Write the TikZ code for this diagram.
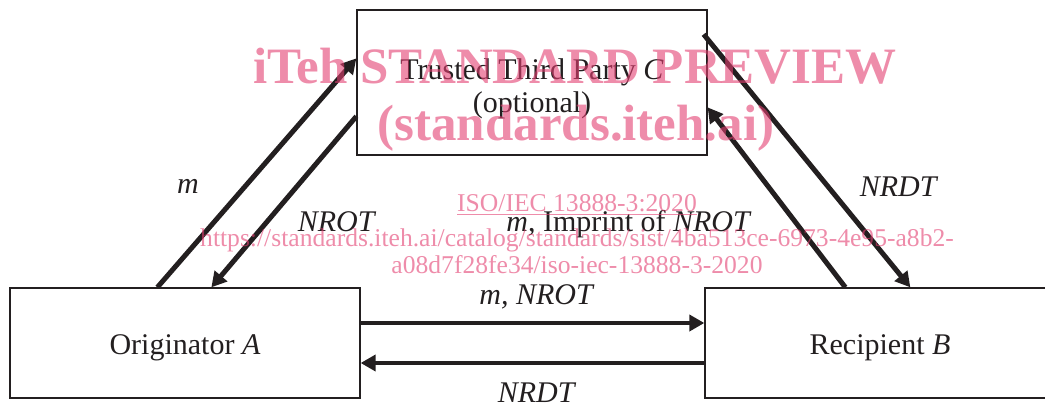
\documentclass[tikz,border=0pt]{standalone}
\usepackage{fontspec}
\setmainfont{Liberation Serif}
\usepackage{tikz}
\usetikzlibrary{arrows.meta}
\usetikzlibrary{positioning}
\usetikzlibrary{calc}
\definecolor{ink}{RGB}{35,31,32}
\definecolor{wmpink}{RGB}{227,63,113}

\begin{document}
\begin{tikzpicture}[
x=0.5pt, y=-0.5pt,
party/.style={
  draw=ink,
  line width=0.65pt,
  minimum width=175pt,
  minimum height=55pt,
  inner sep=0pt,
  text=ink,
  text height=15pt,
  font=\fontsize{15}{16.5}\selectfont,
  align=center},
msg/.style={
  draw=ink,
  line width=2pt,
  -{Triangle[length=7.5pt,width=8pt]}},
slant/.style={
  msg,
  line width=2.5pt},
lbl/.style={
  text=ink,
  inner sep=0pt,
  font=\fontsize{15}{18}\selectfont},
wmark/.style={
  text=wmpink,
  opacity=0.6,
  inner sep=0pt,
  align=center}
]
\useasboundingbox (0,0) rectangle (1045,407);

% parties
\node[party] (A) at (185,343) {Originator \textit{A}};
\node[party, minimum width=185pt] (B) at (890,343) {\hspace*{-10pt}Recipient \textit{B}};
\node[party, minimum height=72.5pt, text height=33pt] (C) at (532,82.5) {Trusted Third Party \textit{C}\\(optional)};

% messages
\draw[slant] ($(A.north west)+(148,0)$) -- ($(C.north west)+(0,49)$);
\draw[slant] ($(C.north west)+(0,107)$) -- ($(A.north west)+(202,0)$);
\draw[slant] ($(C.north east)+(-4,25)$) -- ($(B.north west)+(206,0)$);
\draw[slant] ($(B.north west)+(141,0)$) -- ($(C.north east)+(0,98)$);
\draw[msg] ($(A.east)+(0,-20)$) -- ($(B.west)+(0,-20)$);
\draw[msg] ($(B.west)+(0,20)$) -- ($(A.east)+(0,20)$);

% labels
\node[lbl] (m1) at (188,186) {\textit{m}};
\node[lbl] (nrot1) at (337,222) {\textit{NROT}};
\node[lbl] (impr) at (629,224) {\textit{m}, Imprint of \textit{NROT}};
\node[lbl] (nrdt1) at (899,187) {\textit{NRDT}};
\node[lbl] (mnrot) at (537,297) {\textit{m, NROT}};
\node[lbl] (nrdt2) at (537,393) {\textit{NRDT}};

% watermark
\node[wmark, font=\bfseries\fontsize{25.5}{28}\selectfont] (wm1) at (575,66) {iTeh STANDARD PREVIEW};
\node[wmark, font=\bfseries\fontsize{25.5}{28}\selectfont] (wm2) at (576,128) {(standards.iteh.ai)};
\node[wmark, font=\fontsize{12.8}{14}\selectfont] (wm3) at (577,205) {\underline{ISO/IEC 13888-3:2020}};
\node[wmark, font=\fontsize{12.8}{13.5}\selectfont] (wm4) at (577,251) {https://standards.iteh.ai/catalog/standards/sist/4ba513ce-6973-4e95-a8b2-\\a08d7f28fe34/iso-iec-13888-3-2020};
\end{tikzpicture}
\end{document}
